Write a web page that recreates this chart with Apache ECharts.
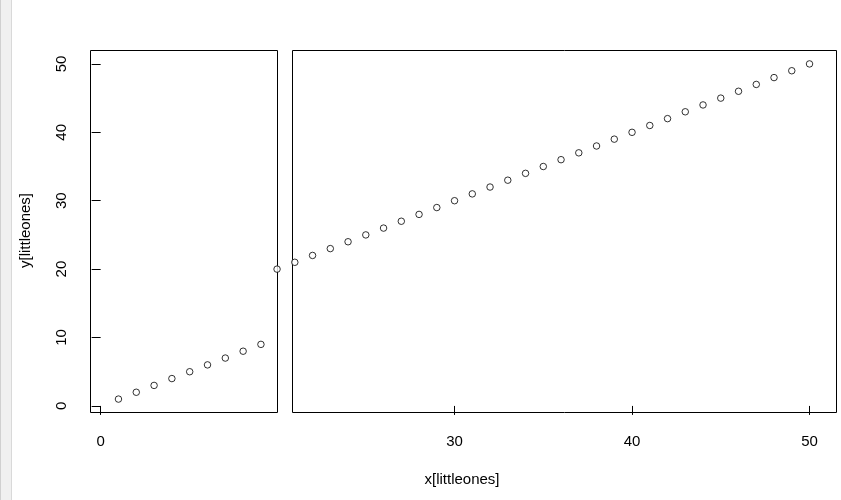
<!DOCTYPE html>
<html>
<head>
<meta charset="utf-8">
<script src="https://cdn.jsdelivr.net/npm/echarts@6/dist/echarts.min.js"></script>
<style>html,body{margin:0;padding:0;background:#fff}#c{width:841px;height:500px}</style>
</head>
<body>
<div id="c"></div>
<script>
// data: x[littleones], y[littleones]
const xLow = [1, 2, 3, 4, 5, 6, 7, 8, 9];
const yLow = [1, 2, 3, 4, 5, 6, 7, 8, 9];
const xHigh = [20, 21, 22, 23, 24, 25, 26, 27, 28, 29, 30, 31, 32, 33, 34, 35, 36, 37, 38, 39, 40, 41, 42, 43, 44, 45, 46, 47, 48, 49, 50];
const yHigh = [20, 21, 22, 23, 24, 25, 26, 27, 28, 29, 30, 31, 32, 33, 34, 35, 36, 37, 38, 39, 40, 41, 42, 43, 44, 45, 46, 47, 48, 49, 50];
const xTicksLow = [0];
const xTicksHigh = [30, 40, 50];
const yTicks = [0, 10, 20, 30, 40, 50];
const xLabel = 'x[littleones]';
const yLabel = 'y[littleones]';

const FONT = 'Liberation Sans, Arial, sans-serif';
const FS = 15;
const chart = echarts.init(document.getElementById('c'), null, {renderer: 'canvas'});

const pair = (xs, ys) => xs.map((v, i) => [v, ys[i]]);
const yMin = -0.96, yMax = 51.96;

function xAxisCfg(idx, min, max, ticks) {
  return {
    type: 'value', gridIndex: idx, min: min, max: max, position: 'bottom',
    splitLine: {show: false}, axisLine: {show: false},
    axisTick: {show: true, length: 9, lineStyle: {color: '#000', width: 1}, customValues: ticks},
    axisLabel: {show: true, margin: 22, color: '#000', fontSize: FS, fontFamily: FONT, customValues: ticks}
  };
}

const symbolStyle = {color: '#fff', borderColor: '#000', borderWidth: 1};

chart.setOption({
  animation: false,
  backgroundColor: '#fff',
  grid: [
    {left: 90.5, top: 50.5, width: 187, height: 362, show: true, borderColor: '#000', borderWidth: 1, backgroundColor: 'transparent'},
    {left: 292.5, top: 50.5, width: 544, height: 362, show: true, borderColor: '#000', borderWidth: 1, backgroundColor: 'transparent'}
  ],
  xAxis: [
    xAxisCfg(0, -0.57, 9.93, xTicksLow),
    xAxisCfg(1, 20.87, 51.52, xTicksHigh)
  ],
  yAxis: [
    {
      type: 'value', gridIndex: 0, min: yMin, max: yMax,
      splitLine: {show: false}, axisLine: {show: false},
      axisTick: {show: true, length: 9, lineStyle: {color: '#000', width: 1}, customValues: yTicks},
      axisLabel: {show: true, margin: 21, rotate: 90, color: '#000', fontSize: FS, fontFamily: FONT, customValues: yTicks}
    },
    {
      type: 'value', gridIndex: 1, min: yMin, max: yMax, show: false
    }
  ],
  series: [
    {type: 'scatter', xAxisIndex: 0, yAxisIndex: 0, data: pair(xLow, yLow), symbol: 'circle', symbolSize: 6.5, itemStyle: symbolStyle, clip: false, silent: true},
    {type: 'scatter', xAxisIndex: 1, yAxisIndex: 1, data: pair(xHigh, yHigh), symbol: 'circle', symbolSize: 6.5, itemStyle: symbolStyle, clip: false, silent: true}
  ],
  graphic: [
    {type: 'rect', left: 0, top: 0, shape: {width: 11, height: 500}, style: {fill: '#f0f0f0'}, silent: true},
    {type: 'rect', left: 11, top: 0, shape: {width: 1, height: 500}, style: {fill: '#d9d9d9'}, silent: true},
    {type: 'rect', left: 0, top: 0, shape: {width: 1, height: 500}, style: {fill: '#d0d0d0'}, silent: true},
    {type: 'text', x: 462, y: 480, style: {text: xLabel, fill: '#000', font: FS + 'px ' + FONT, textAlign: 'center', textVerticalAlign: 'middle'}, silent: true},
    {type: 'text', x: 26, y: 230.5, rotation: Math.PI / 2, style: {text: yLabel, fill: '#000', font: FS + 'px ' + FONT, textAlign: 'center', textVerticalAlign: 'middle'}, silent: true}
  ]
});
</script>
</body>
</html>
